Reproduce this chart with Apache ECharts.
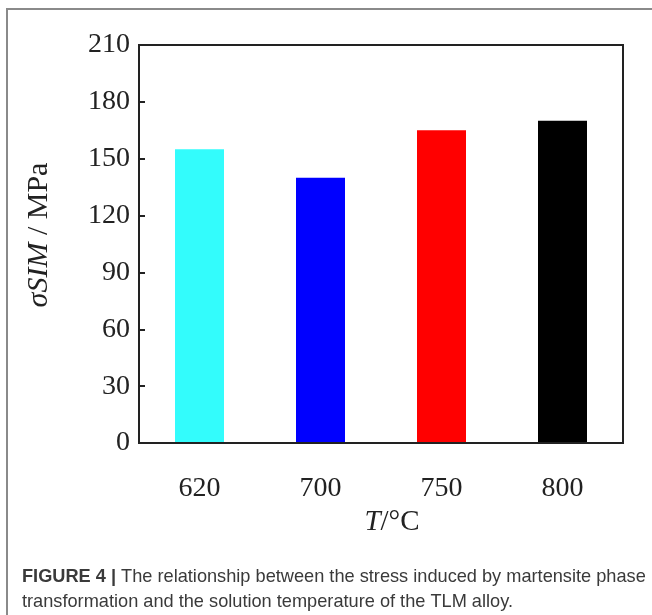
<!DOCTYPE html>
<html>
<head>
<meta charset="utf-8">
<script src="https://cdn.jsdelivr.net/npm/echarts@6/dist/echarts.min.js"></script>
<style>
html,body{margin:0;padding:0;background:#fff;}
#chart{width:652px;height:615px;}
</style>
</head>
<body>
<div id="chart"></div>
<script>
var categories = ['620', '700', '750', '800'];
var values = [155, 140, 165, 170];
var barColors = ['#33FCFC', '#0000FF', '#FF0000', '#000000'];
var yTicks = [0, 30, 60, 90, 120, 150, 180, 210];

var chart = echarts.init(document.getElementById('chart'));
var serif = 'Liberation Serif, Times New Roman, serif';
var sans = 'Liberation Sans, Arial, sans-serif';
chart.setOption({
  animation: false,
  backgroundColor: '#ffffff',
  grid: { left: 139, top: 45, width: 484, height: 398, containLabel: false },
  xAxis: {
    type: 'category',
    data: categories,
    name: '{i|T}/°C',
    nameLocation: 'middle',
    nameGap: 50,
    nameTextStyle: {
      color: '#222', fontFamily: serif, fontSize: 29, padding: [0, 0, 0, 22],
      rich: { i: { fontStyle: 'italic', fontFamily: serif, fontSize: 29, color: '#222' } }
    },
    axisLine: { show: true, lineStyle: { color: '#222', width: 2 } },
    axisTick: { show: false },
    axisLabel: { color: '#222', fontFamily: serif, fontSize: 28, margin: 32 },
    splitLine: { show: false }
  },
  yAxis: {
    type: 'value',
    min: yTicks[0],
    max: yTicks[yTicks.length - 1],
    interval: 30,
    name: '{i|σSIM} / MPa',
    nameLocation: 'middle',
    nameGap: 85,
    nameTextStyle: {
      color: '#222', fontFamily: serif, fontSize: 30, padding: [0, 0, 0, 18],
      rich: { i: { fontStyle: 'italic', fontFamily: serif, fontSize: 30, color: '#222' } }
    },
    axisLine: { show: true, lineStyle: { color: '#222', width: 2 } },
    axisTick: { show: true, inside: true, length: 6, lineStyle: { color: '#222', width: 2 } },
    axisLabel: { color: '#222', fontFamily: serif, fontSize: 28, margin: 9 },
    splitLine: { show: false }
  },
  series: [{
    type: 'bar',
    data: values.map(function (v, i) { return { value: v, itemStyle: { color: barColors[i] } }; }),
    barWidth: 49
  }],
  graphic: [
    {
      type: 'rect', silent: true,
      shape: { x: 139, y: 45, width: 484, height: 398 },
      style: { fill: 'none', stroke: '#222', lineWidth: 2 }, z: 10
    },
    {
      type: 'rect', silent: true,
      shape: { x: 7, y: 9, width: 700, height: 700 },
      style: { fill: 'none', stroke: '#8a8a8a', lineWidth: 2 }
    },
    {
      type: 'text', left: 22, top: 564,
      style: {
        text: '{b|FIGURE 4 |} The relationship between the stress induced by martensite phase\ntransformation and the solution temperature of the TLM alloy.',
        fontFamily: sans,
        fontSize: 18.2,
        lineHeight: 25,
        fill: '#3a3a3a',
        rich: {
          b: { fontWeight: 'bold', fontFamily: sans, fontSize: 18.2, fill: '#3a3a3a', lineHeight: 25 }
        }
      }
    }
  ]
});
</script>
</body>
</html>
